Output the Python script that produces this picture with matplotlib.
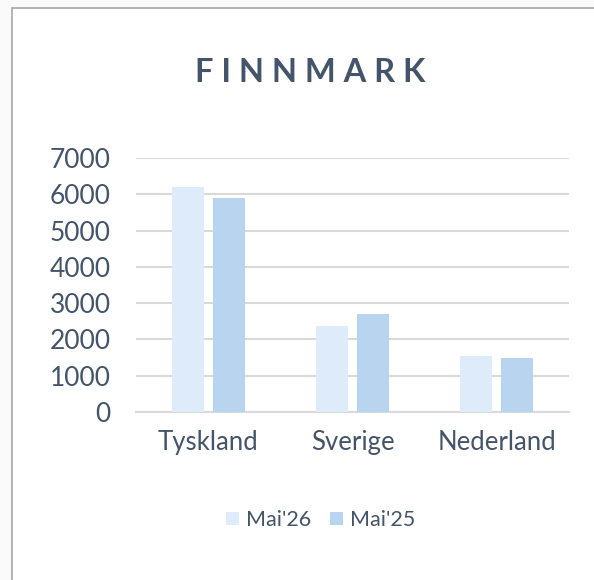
import matplotlib

matplotlib.use("Agg")
import matplotlib.pyplot as plt
import numpy as np
from matplotlib.patches import Rectangle

categories = ["Tyskland", "Sverige", "Nederland"]
series_names = ["Mai'26", "Mai'25"]
mai26 = [6200, 2380, 1550]
mai25 = [5900, 2700, 1500]
yticks = [0, 1000, 2000, 3000, 4000, 5000, 6000, 7000]

text_col = "#44546A"
colors = ["#DDEBFB", "#B8D4EE"]

plt.rcParams["font.family"] = ["Lato", "DejaVu Sans"]

fig = plt.figure(figsize=(5.94, 5.80), dpi=100)
fig.patch.set_facecolor("#FAFAFA")
# chart frame, runs off the right and bottom edges
frame = Rectangle((12 / 594, -0.1), 1.2, 1 - 8 / 580 + 0.1,
                  transform=fig.transFigure, facecolor="white",
                  edgecolor="#A6A6A6", linewidth=1.2, zorder=-5)
fig.patches.append(frame)

ax = fig.add_axes([136 / 594, 1 - 412 / 580, 433 / 594, 254 / 580])
ax.set_zorder(2)
ax.set_facecolor("none")
x = np.arange(len(categories))
w = 0.222
off = 0.142
ax.bar(x - off, mai26, width=w, color=colors[0], label=series_names[0], zorder=3)
ax.bar(x + off, mai25, width=w, color=colors[1], label=series_names[1], zorder=3)

ax.set_xlim(-0.5, 2.5)
ax.set_ylim(0, 7000)
ax.set_yticks(yticks)
ax.set_yticklabels([str(v) for v in yticks])
ax.set_xticks(x)
ax.set_xticklabels(categories)
ax.yaxis.grid(True, color="#D9D9D9", linewidth=1.5, zorder=0)
ax.set_axisbelow(True)
for s in ["top", "right", "left"]:
    ax.spines[s].set_visible(False)
ax.spines["bottom"].set_color("#D9D9D9")
ax.spines["bottom"].set_linewidth(1.5)
ax.tick_params(axis="both", length=0, colors=text_col)
ax.tick_params(axis="y", pad=18, labelsize=19)
ax.tick_params(axis="x", pad=13, labelsize=18.5)

fig.text(0.522, 1 - 72 / 580, " ".join("FINNMARK"), ha="center", va="center",
         fontsize=23.5, fontweight="bold", color=text_col, zorder=3)

leg = fig.legend(loc="center", bbox_to_anchor=(0.54, 1 - 520 / 580), ncol=2,
                 frameon=False, fontsize=15.5, handlelength=0.6, handleheight=0.6,
                 handletextpad=0.35, columnspacing=0.85)
leg.set_zorder(3)
for t in leg.get_texts():
    t.set_color(text_col)

fig.savefig("out.png", dpi=100, facecolor=fig.get_facecolor())
